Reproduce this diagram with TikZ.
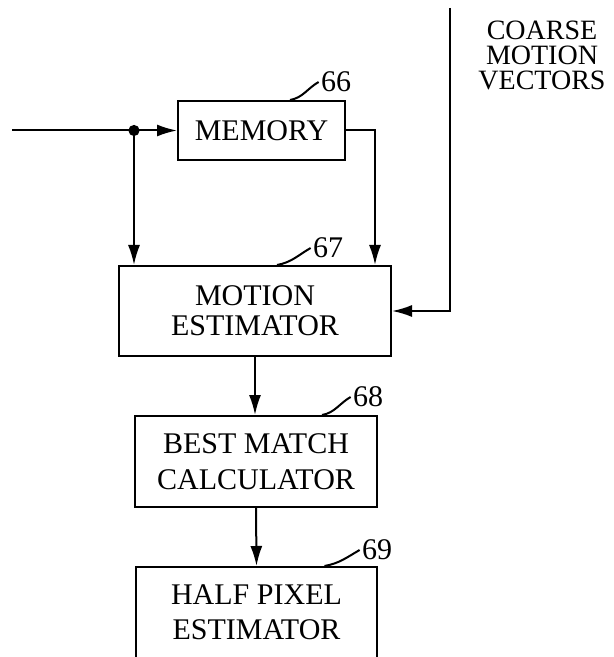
\documentclass[tikz,border=0pt]{standalone}
\usepackage{fontspec}
\setmainfont{Liberation Serif}
\usepackage{tikz}
\usetikzlibrary{arrows.meta,positioning}
\tikzset{
  blockbox/.style={draw,line width=1pt,align=center,inner sep=0pt,
    font=\fontsize{15}{15}\selectfont},
  refnum/.style={inner sep=1pt,font=\fontsize{15}{15}\selectfont},
  feedarrow/.style={-{Latex[length=10pt,width=6pt]},line width=1pt},
  leader/.style={line width=1pt}
}

\begin{document}
\begin{tikzpicture}[x=0.5pt,y=-0.5pt]
\useasboundingbox (0,0) rectangle (614,657);
\clip (0,0) rectangle (614,657);
\node[blockbox,minimum width=83.5pt,minimum height=29.5pt] (memory) at (261.5,130.5) {MEMORY};
\node[blockbox,minimum width=136pt,minimum height=45pt,
  font=\fontsize{15}{15}\selectfont] (motion) at (255,311) {MOTION\\ESTIMATOR};
\node[blockbox,minimum width=121pt,minimum height=45.5pt,
  font=\fontsize{15}{18}\selectfont] (best) at (256,461.5) {BEST MATCH\\CALCULATOR};
\node[blockbox,minimum width=120.5pt,minimum height=45.5pt,
  font=\fontsize{15}{17.5}\selectfont] (half) at (256.5,612.5) {HALF PIXEL\\ESTIMATOR};
\node[align=center,inner sep=0pt,font=\fontsize{14}{12.5}\selectfont] (vectors) at (542,55) {COARSE\\MOTION\\VECTORS};
\node[refnum] (n66) at (336,82) {66};
\node[refnum] (n67) at (328,248) {67};
\node[refnum] (n68) at (368,397) {68};
\node[refnum] (n69) at (377,550) {69};
\coordinate (inlet) at (12,130.5);
\coordinate (coarsetop) at (450,8);
\coordinate (split) at (134,130.5);
\fill (split) circle (2.8pt);
% input and memory
\draw[feedarrow] (inlet) -- (memory.west);
\draw[feedarrow] (split) -- (split |- motion.north);
\draw[feedarrow] (memory.east) -| ([xshift=60pt]motion.north);
\draw[feedarrow] (coarsetop) |- (motion.east);
% down the chain
\draw[feedarrow] (motion.south) -- (motion.south |- best.north);
\draw[feedarrow] (best.south) -- (half.north);
% reference leaders
\draw[leader] ([xshift=14.25pt]memory.north) to[out=10,in=210] (n66.west);
\draw[leader] ([xshift=11pt]motion.north) to[out=10,in=210] (n67.west);
\draw[leader] ([xshift=33pt]best.north) to[out=10,in=210] (n68.west);
\draw[leader] ([xshift=34pt]half.north) to[out=10,in=210] (n69.west);
\end{tikzpicture}
\end{document}
